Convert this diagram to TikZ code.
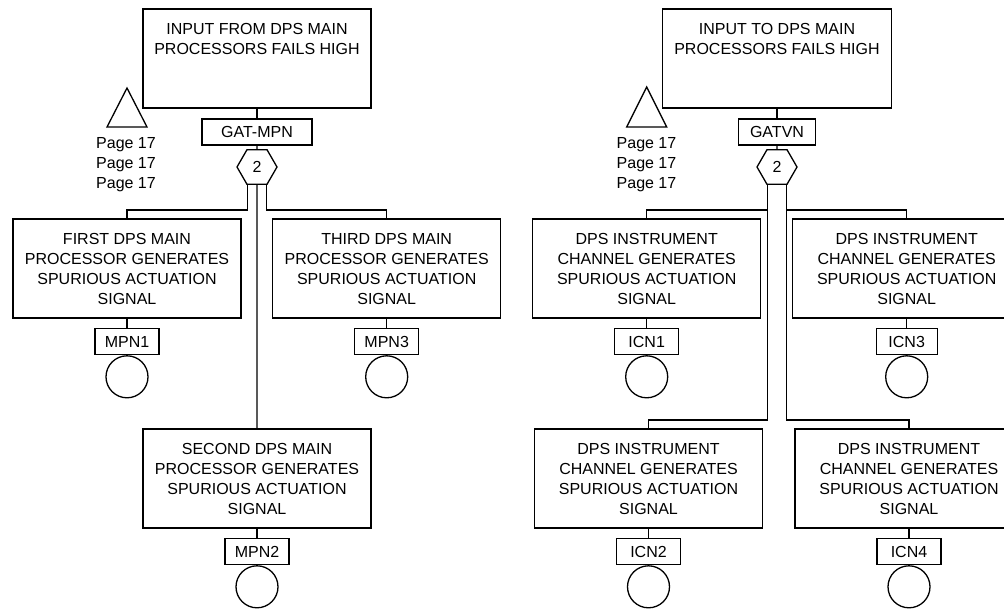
\documentclass[tikz,border=0pt]{standalone}
\usepackage{fontspec}
\setmainfont{Liberation Sans}
\usetikzlibrary{shapes.geometric,calc}
\begin{document}
\begin{tikzpicture}[x=1pt,y=-1pt,line width=1.3pt,
  every node/.style={font=\fontsize{16}{20}\selectfont},
  evt/.style={draw,minimum width=228pt,minimum height=99pt,inner sep=0pt,align=center},
  lbl/.style={draw,minimum height=26pt,inner sep=0pt},
  basic/.style={draw,circle,minimum size=42pt,inner sep=0pt,anchor=north},
  vote/.style={draw,regular polygon,regular polygon sides=6,minimum size=40pt,inner sep=0pt},
  pg/.style={align=center,inner sep=0pt}]
\useasboundingbox (0,0) rectangle (1004,608);
% ---------- left tree ----------
\node[evt] (ltop) at (257,58.5) {INPUT FROM DPS MAIN\\PROCESSORS FAILS HIGH\\~\\~};
\node[lbl,minimum width=110pt] (gat) at (257,132) {GAT-MPN};
\node[vote] (hex1) at (257,167) {2};
\draw (127,88) -- (147,127) -- (107,127) -- cycle;
\node[pg] (pg1) at (126,165) {Page 17\\Page 17\\Page 17};
\node[evt] (first) at (127,268.5) {FIRST DPS MAIN\\PROCESSOR GENERATES\\SPURIOUS ACTUATION\\SIGNAL};
\node[evt] (third) at (386.7,268.5) {THIRD DPS MAIN\\PROCESSOR GENERATES\\SPURIOUS ACTUATION\\SIGNAL};
\node[evt] (second) at (257,478.5) {SECOND DPS MAIN\\PROCESSOR GENERATES\\SPURIOUS ACTUATION\\SIGNAL};
\node[lbl,minimum width=64pt] (mpn1) at (127,341.5) {MPN1};
\node[lbl,minimum width=64pt] (mpn3) at (386.7,341.5) {MPN3};
\node[lbl,minimum width=64pt] (mpn2) at (257,551.5) {MPN2};
\node[basic] (b1) at (mpn1.south) {};
\node[basic] (b3) at (mpn3.south) {};
\node[basic] (b2) at (mpn2.south) {};
\draw (ltop.south) -- (gat.north);
\draw (gat.south) -- (hex1.north);
\coordinate (h1l) at ($(hex1.south)+(-9.3,0)$);
\coordinate (h1r) at ($(hex1.south)+(9.7,0)$);
\draw (h1l) -- ++(0,25) -| (first.north);
\draw (h1r) -- ++(0,25) -| (third.north);
\draw (hex1.south) -- (second.north);
\draw (first.south) -- (mpn1.north);
\draw (third.south) -- (mpn3.north);
\draw (second.south) -- (mpn2.north);
% ---------- right tree ----------
\node[evt,minimum width=229pt] (rtop) at (777,58.5) {INPUT TO DPS MAIN\\PROCESSORS FAILS HIGH\\~\\~};
\node[lbl,minimum width=77pt] (gatvn) at (777,132) {GATVN};
\node[vote] (hex2) at (777,167) {2};
\draw (646.7,87) -- (666.7,127) -- (626.7,127) -- cycle;
\node[pg] (pg2) at (646.5,165) {Page 17\\Page 17\\Page 17};
\node[evt] (icn1b) at (646.7,268.5) {DPS INSTRUMENT\\CHANNEL GENERATES\\SPURIOUS ACTUATION\\SIGNAL};
\node[evt] (icn3b) at (906.7,268.5) {DPS INSTRUMENT\\CHANNEL GENERATES\\SPURIOUS ACTUATION\\SIGNAL};
\node[evt] (icn2b) at (648.5,478.5) {DPS INSTRUMENT\\CHANNEL GENERATES\\SPURIOUS ACTUATION\\SIGNAL};
\node[evt] (icn4b) at (909,478.5) {DPS INSTRUMENT\\CHANNEL GENERATES\\SPURIOUS ACTUATION\\SIGNAL};
\node[lbl,minimum width=64pt] (icn1) at (646.7,341.5) {ICN1};
\node[lbl,minimum width=61pt] (icn3) at (906.7,341.5) {ICN3};
\node[lbl,minimum width=64pt] (icn2) at (648.5,551.5) {ICN2};
\node[lbl,minimum width=64pt] (icn4) at (909,551.5) {ICN4};
\node[basic] (b4) at (icn1.south) {};
\node[basic] (b5) at (icn3.south) {};
\node[basic] (b6) at (icn2.south) {};
\node[basic] (b7) at (icn4.south) {};
\draw (rtop.south) -- (gatvn.north);
\draw (gatvn.south) -- (hex2.north);
\coordinate (h2l) at ($(hex2.south)+(-9.8,0)$);
\coordinate (h2r) at ($(hex2.south)+(9.7,0)$);
\draw (h2l) -- ++(0,25) -| (icn1b.north);
\draw (h2l) -- ++(0,235) -| (icn2b.north);
\draw (h2r) -- ++(0,25) -| (icn3b.north);
\draw (h2r) -- ++(0,235) -| (icn4b.north);
\draw (icn1b.south) -- (icn1.north);
\draw (icn3b.south) -- (icn3.north);
\draw (icn2b.south) -- (icn2.north);
\draw (icn4b.south) -- (icn4.north);
\end{tikzpicture}
\end{document}
